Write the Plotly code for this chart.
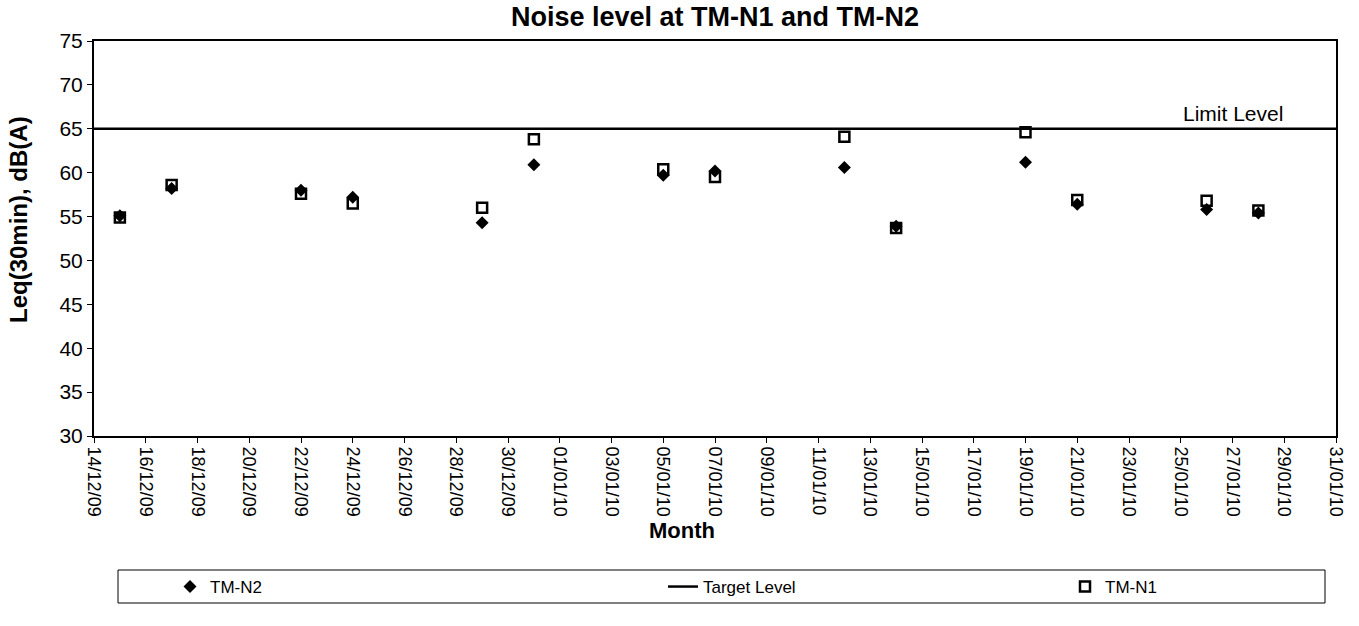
import plotly.graph_objects as go

# ---- data ----
dates = ["2009-12-15", "2009-12-17", "2009-12-22", "2009-12-24", "2009-12-29",
         "2009-12-31", "2010-01-05", "2010-01-07", "2010-01-12", "2010-01-14",
         "2010-01-19", "2010-01-21", "2010-01-26", "2010-01-28"]
tm_n2 = [55.1, 58.2, 58.0, 57.2, 54.3, 60.9, 59.7, 60.2, 60.6, 53.9, 61.2, 56.4, 55.8, 55.4]
tm_n1 = [54.9, 58.6, 57.6, 56.5, 56.0, 63.8, 60.4, 59.5, 64.1, 53.7, 64.6, 56.9, 56.8, 55.7]
limit_dates = ["2009-12-14", "2010-01-31"]
limit_level = [65, 65]
x_range = ["2009-12-14", "2010-01-31"]
y_range = [30, 75]

FONT = "Liberation Sans, Arial, sans-serif"
W, H = 1359, 626
L, R, T, B = 94, 23, 41, 190
PW, PH = W - L - R, H - T - B


def px_x(p):
    return (p - L) / PW


def px_y(p):
    return (H - B - p) / PH


fig = go.Figure()
fig.add_trace(go.Scatter(
    x=dates, y=tm_n2, mode="markers", name="TM-N2",
    marker=dict(symbol="diamond", size=10, color="black"),
    legend="legend"))
fig.add_trace(go.Scatter(
    x=limit_dates, y=limit_level, mode="lines", name="Target Level",
    line=dict(color="black", width=2.5),
    legend="legend2"))
fig.add_trace(go.Scatter(
    x=dates, y=tm_n1, mode="markers", name="TM-N1",
    marker=dict(symbol="square-open", size=10, color="black", line=dict(width=2.5)),
    legend="legend3"))

leg_common = dict(orientation="h", yanchor="middle", y=px_y(587), xanchor="left",
                  font=dict(family=FONT, size=17, color="black"),
                  bgcolor="rgba(0,0,0,0)", borderwidth=0)

fig.update_layout(
    width=W, height=H,
    paper_bgcolor="white", plot_bgcolor="white",
    margin=dict(l=L, r=R, t=T, b=B, autoexpand=False),
    font=dict(family=FONT, color="black"),
    title=dict(text="<b>Noise level at TM-N1 and TM-N2</b>",
               x=0.5, xref="paper", xanchor="center",
               y=1 - 17 / H, yanchor="middle",
               font=dict(family=FONT, size=27, color="black")),
    showlegend=True,
    legend=dict(x=px_x(170), **leg_common),
    legend2=dict(x=px_x(663), **leg_common),
    legend3=dict(x=px_x(1065), **leg_common),
    xaxis=dict(
        type="date", range=x_range, tick0="2009-12-14", dtick=2 * 86400000,
        tickformat="%d/%m/%y", tickangle=90,
        tickfont=dict(family=FONT, size=18, color="black"),
        ticks="outside", ticklen=5, tickcolor="black", tickwidth=1,
        ticklabelstandoff=0,
        showline=True, linecolor="black", linewidth=2, mirror=True,
        showgrid=False, zeroline=False),
    yaxis=dict(
        range=y_range, dtick=5, tick0=30,
        tickfont=dict(family=FONT, size=21, color="black"),
        ticks="outside", ticklen=5, tickcolor="black", tickwidth=1,
        showline=True, linecolor="black", linewidth=2, mirror=True,
        showgrid=False, zeroline=False),
    annotations=[
        dict(x="2010-01-27", y=65, xref="x", yref="y",
             text="Limit Level", showarrow=False,
             yanchor="bottom", yshift=2,
             font=dict(family=FONT, size=21, color="black")),
        dict(x=px_x(18), y=px_y(220), xref="paper", yref="paper",
             text="<b>Leq(30min), dB(A)</b>", textangle=-90, showarrow=False,
             xanchor="center", yanchor="middle",
             font=dict(family=FONT, size=24, color="black")),
        dict(x=px_x(682), y=px_y(530), xref="paper", yref="paper",
             text="<b>Month</b>", showarrow=False,
             xanchor="center", yanchor="middle",
             font=dict(family=FONT, size=22, color="black")),
    ],
    shapes=[dict(type="rect", xref="paper", yref="paper",
                 x0=px_x(118), x1=px_x(1325),
                 y0=px_y(603), y1=px_y(570),
                 line=dict(color="black", width=1), fillcolor="rgba(0,0,0,0)")],
)

fig.write_html("out.html",
               config={"displayModeBar": False},
               post_script="document.body.style.margin='0';")
